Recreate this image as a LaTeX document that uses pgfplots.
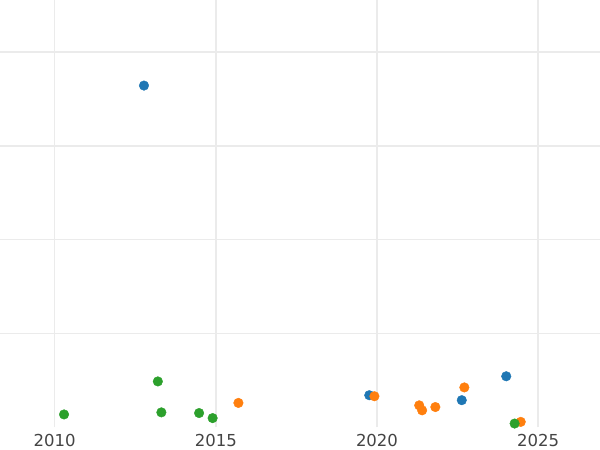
\documentclass[border=0pt]{standalone}
\usepackage{pgfplots}
\pgfplotsset{compat=1.18}
\usepackage{fontspec}
\setmainfont{DejaVu Sans}
\definecolor{cblue}{HTML}{1F77B4}
\definecolor{corange}{HTML}{FF7F0E}
\definecolor{cgreen}{HTML}{2CA02C}
\definecolor{gridc}{HTML}{EBEBEB}
\definecolor{labc}{HTML}{444444}
\begin{document}
\begin{tikzpicture}[x=1pt,y=1pt]
\useasboundingbox (0,0) rectangle (600,450);
\begin{axis}[
  at={(0,24)}, anchor=south west,
  scale only axis, width=600pt, height=427pt,
  xmin=2008.303, xmax=2026.919, ymin=0, ymax=4.552,
  axis line style={draw=none},
  major tick length=0pt, minor tick length=0pt,
  xtick={2010,2015,2020,2025},
  ytick={3,4}, minor ytick={1,2}, yticklabels={},
  /pgf/number format/assume math mode=true,
  x tick label style={/pgf/number format/1000 sep={}, font=\fontsize{16.5}{18}\selectfont, text=labc, yshift=-3pt},
  xmajorgrids, ymajorgrids, yminorgrids,
  major grid style={draw=gridc, line width=1.6pt},
  minor grid style={draw=gridc, line width=1pt},
  clip=false,
]
\addplot[only marks, mark=*, mark size=4.8pt, color=cblue, mark options={draw=cblue, fill=cblue}] coordinates {
(2012.77,3.645) (2019.76,0.344) (2022.63,0.291) (2024.01,0.546)
};
\addplot[only marks, mark=*, mark size=4.8pt, color=corange, mark options={draw=corange, fill=corange}] coordinates {
(2015.70,0.262) (2019.92,0.333) (2021.31,0.236) (2021.40,0.183) (2021.81,0.218) (2022.71,0.427) (2024.46,0.060)
};
\addplot[only marks, mark=*, mark size=4.8pt, color=cgreen, mark options={draw=cgreen, fill=cgreen}] coordinates {
(2010.29,0.139) (2013.20,0.491) (2013.31,0.161) (2014.48,0.154) (2014.90,0.100) (2024.27,0.042)
};
\end{axis}
\end{tikzpicture}
\end{document}
